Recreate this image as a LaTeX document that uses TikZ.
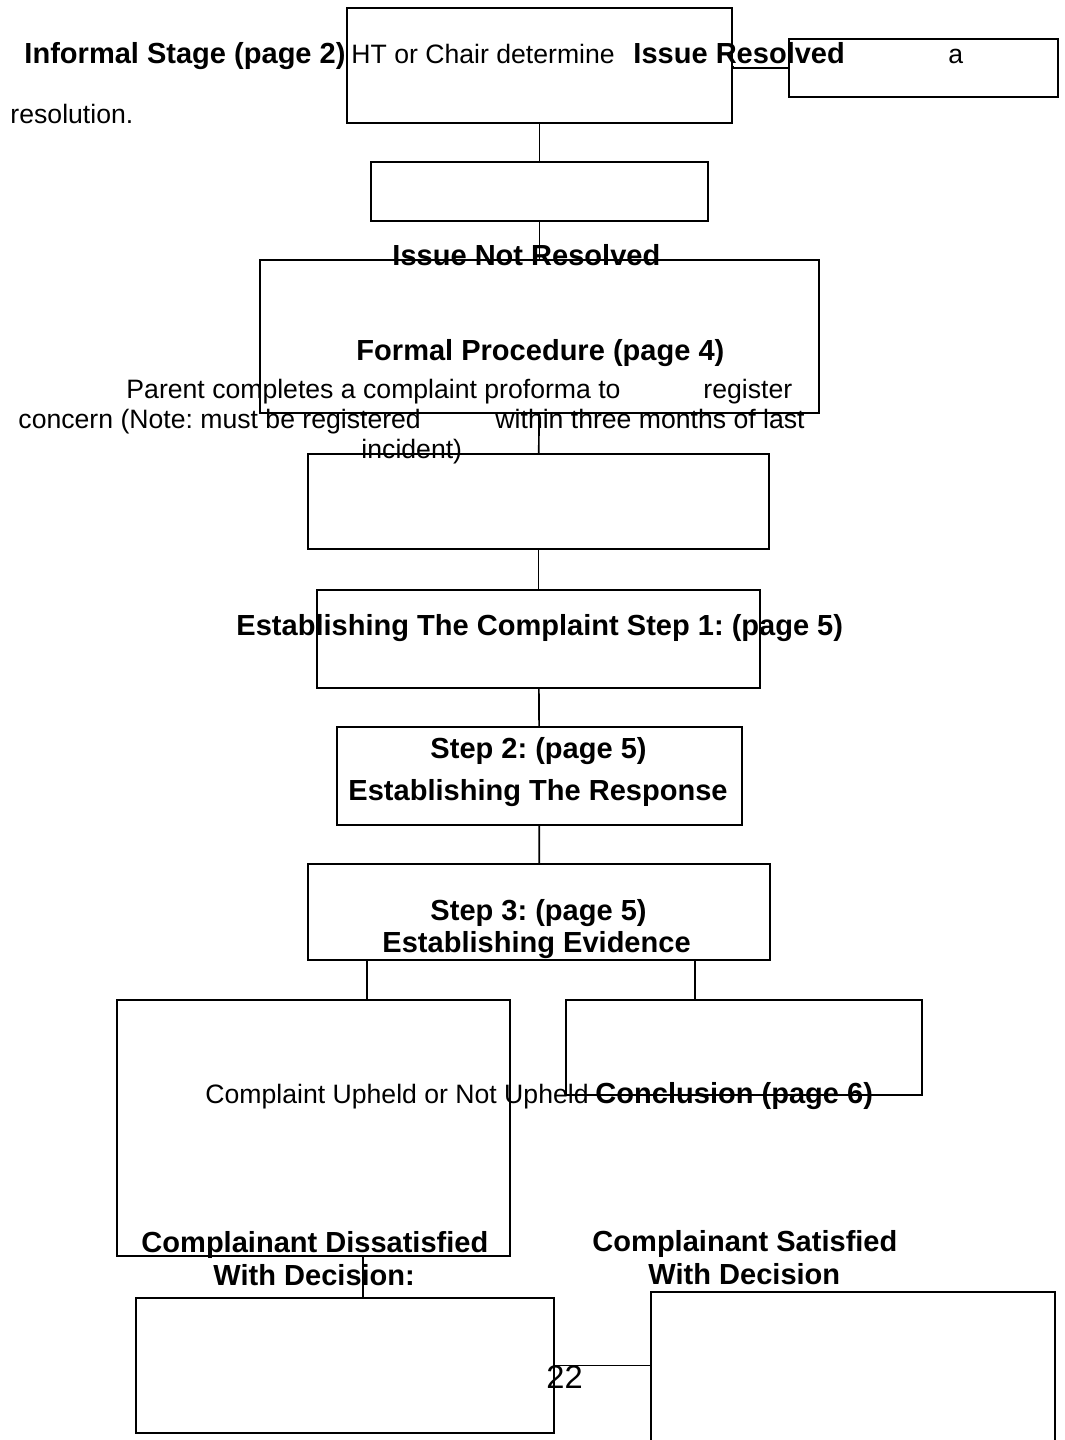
\documentclass[tikz,border=0pt]{standalone}
\usepackage{fontspec}
\setmainfont{Liberation Sans}
\usepackage{tikz}
\usetikzlibrary{fit}
\frenchspacing

\begin{document}
\begin{tikzpicture}[x=0.4133pt, y=-0.4133pt]
\tikzstyle{bx}=[draw, line width=0.65pt, inner sep=0pt]
\tikzstyle{bt}=[anchor=base west, inner sep=0pt, font=\fontsize{12}{14}\selectfont\bfseries]
\tikzstyle{rt}=[anchor=base west, inner sep=0pt, font=\fontsize{11}{13}\selectfont]
\tikzstyle{ln}=[line width=0.7pt]

\fill[white] (0,0) rectangle (1064,1440);
\useasboundingbox (0,0) rectangle (1064,1440);

\node[bx, fit={(347,8) (732,123)}](a){};
\node[bx, fit={(789,39) (1058,97)}](b){};
\node[bx, fit={(371,162) (708,221)}](c){};
\node[bx, fit={(260,260) (819,413)}](d){};
\node[bx, fit={(308,454) (769,549)}](e){};
\node[bx, fit={(317,590) (760,688)}](f){};
\node[bx, fit={(337,727) (742,825)}](g){};
\node[bx, fit={(308,864) (770,960)}](h){};
\node[bx, fit={(117,1000) (510,1256)}](i){};
\node[bx, fit={(566,1000) (922,1095)}](j){};
\node[bx, fit={(136,1298) (554,1433)}](k){};
\node[bx, fit={(651,1292) (1055,1470)}](l){};

\coordinate (hl) at (367,0);
\coordinate (hr) at (695,0);
\coordinate (il) at (363,0);

\draw[ln](a.east)--(a.east |- b.west)--(b.west);
\draw[ln](a)--(c); \draw[ln](c)--(d); \draw[ln](d)--(e);
\draw[ln](e)--(f); \draw[ln](f)--(g); \draw[ln](g)--(h);
\draw[ln](hl |- h.south)--(hl |- i.north);
\draw[ln](hr |- h.south)--(hr |- j.north);
\draw[ln](il |- i.south)--(il |- k.north);
\draw[ln](k.east)--(k.east -| l.west);

\node[bt](infst) at (24,63){Informal Stage (page 2)};
\node[rt](htch) at (351,63){HT or Chair determine};
\node[bt](isres) at (633,63){Issue Resolved};
\node[rt](aa) at (948,63){a};
\node[rt](resol) at (10,123){resolution.};
\node[bt](notres) at (392,265){Issue Not Resolved};
\node[bt](formal) at (356,360){Formal Procedure (page 4)};
\node[rt](par1) at (126,398){Parent completes a complaint proforma to};
\node[rt](par2) at (703,398){register};
\node[rt](par3) at (18,428){concern (Note: must be registered};
\node[rt](par4) at (495,428){within three months of last};
\node[rt](par5) at (361,458){incident)};
\node[bt](step1) at (236,635){Establishing The Complaint Step 1: (page 5)};
\node[bt](step2) at (430,758){Step 2: (page 5)};
\node[bt](resp) at (348,800){Establishing The Response};
\node[bt](step3) at (430,920){Step 3: (page 5)};
\node[bt](evid) at (382,952){Establishing Evidence};
\node[rt](uphld) at (205,1103){Complaint Upheld or Not Upheld};
\node[bt](concl) at (595,1103){Conclusion (page 6)};
\node[bt](dissat) at (141,1252){Complainant Dissatisfied};
\node[bt](dissat2) at (213,1285){With Decision:};
\node[bt](sat) at (592,1251){Complainant Satisfied};
\node[bt](sat2) at (648,1284){With Decision};
\node[rt, font=\fontsize{13.5}{15}\selectfont](pgno) at (546,1388){22};
\end{tikzpicture}
\end{document}
